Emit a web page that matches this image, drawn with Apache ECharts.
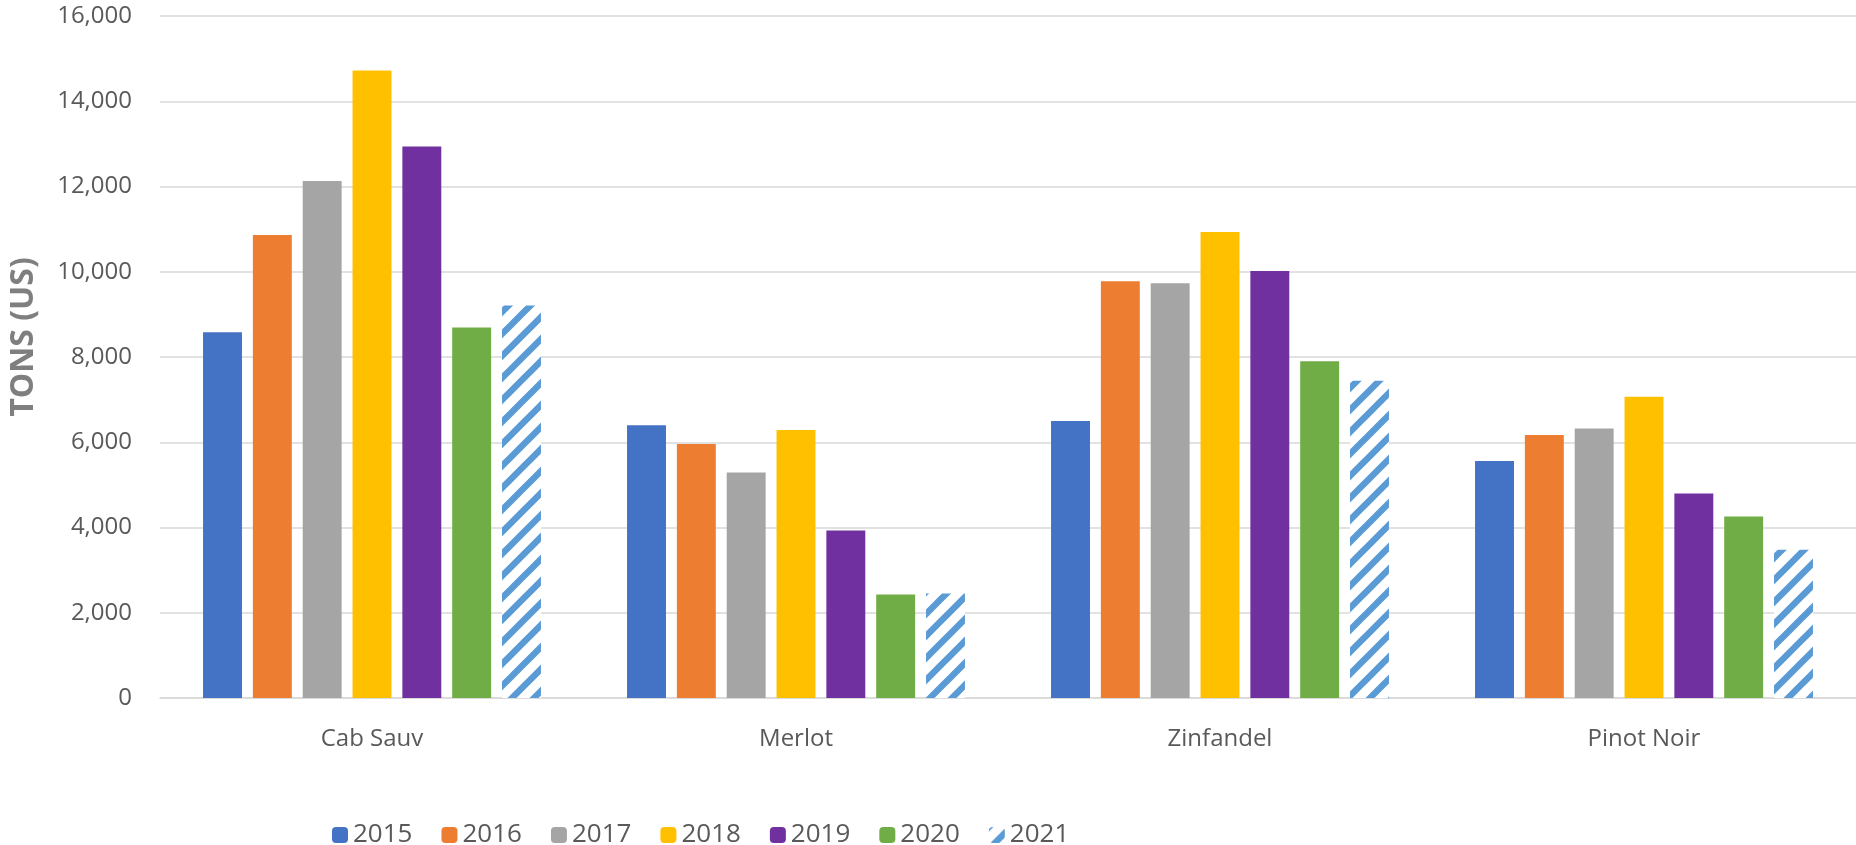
<!DOCTYPE html>
<html>
<head>
<meta charset="utf-8">
<style>
  html, body { margin: 0; padding: 0; background: #fff; }
  #chart { width: 1856px; height: 845px; }
</style>
<script src="https://cdn.jsdelivr.net/npm/echarts@6/dist/echarts.min.js"></script>
</head>
<body>
<div id="chart"></div>
<script>
const categories = ['Cab Sauv', 'Merlot', 'Zinfandel', 'Pinot Noir'];
const years = ['2015', '2016', '2017', '2018', '2019', '2020', '2021'];
const y2015 = [8580, 6400, 6500, 5560];
const y2016 = [10860, 5960, 9780, 6170];
const y2017 = [12130, 5290, 9730, 6320];
const y2018 = [14720, 6290, 10930, 7070];
const y2019 = [12940, 3930, 10020, 4800];
const y2020 = [8690, 2430, 7900, 4260];
const y2021 = [9210, 2450, 7440, 3480];

const valuesByYear = [y2015, y2016, y2017, y2018, y2019, y2020, y2021];
const colors = ['#4472C4', '#ED7D31', '#A5A5A5', '#FFC000', '#7030A0', '#70AD47', '#5B9BD5'];

// diagonal hatch used for the 2021 bars
function makeHatch(color) {
  const p = 22;
  const c = document.createElement('canvas');
  c.width = p;
  c.height = p;
  const ctx = c.getContext('2d');
  ctx.fillStyle = '#fff';
  ctx.fillRect(0, 0, p, p);
  ctx.strokeStyle = color;
  ctx.lineWidth = 6.5;
  ctx.beginPath();
  ctx.moveTo(-p / 2, p / 2); ctx.lineTo(p / 2, -p / 2);
  ctx.moveTo(0, p); ctx.lineTo(p, 0);
  ctx.moveTo(p / 2, p * 1.5); ctx.lineTo(p * 1.5, p / 2);
  ctx.stroke();
  return c;
}

const font = '"Open Sans", "Noto Sans", sans-serif';

const chart = echarts.init(document.getElementById('chart'));

const series = years.map((name, i) => {
  const hatched = i === years.length - 1;
  return {
    name: name,
    type: 'bar',
    data: valuesByYear[i],
    barGap: '28%',
    barCategoryGap: '20.3%',
    itemStyle: {
      color: hatched ? { image: makeHatch(colors[i]), repeat: 'repeat' } : colors[i]
    },
    emphasis: { disabled: true }
  };
});

chart.setOption({
  animation: false,
  textStyle: { fontFamily: font },
  grid: {
    left: 160,
    right: 0,
    top: 16,
    bottom: 147,
    containLabel: false,
    outerBoundsMode: 'none'
  },
  legend: {
    left: 327,
    top: 817,
    itemWidth: 16,
    itemHeight: 16,
    itemGap: 29,
    textStyle: { fontSize: 26, color: '#595959', fontFamily: font },
    data: years
  },
  xAxis: {
    type: 'category',
    data: categories,
    axisLine: { show: true, lineStyle: { color: '#D9D9D9', width: 1.5 } },
    axisTick: { show: false },
    axisLabel: { fontSize: 24, color: '#595959', margin: 29, fontFamily: font }
  },
  yAxis: {
    type: 'value',
    min: 0,
    max: 16000,
    interval: 2000,
    name: 'TONS (US)',
    nameLocation: 'middle',
    nameRotate: 90,
    nameGap: 120,
    nameTextStyle: { fontSize: 32, fontWeight: 'bold', color: '#7F7F7F', fontFamily: font, padding: [0, 0, 0, 40] },
    axisLine: { show: false },
    axisTick: { show: false },
    axisLabel: {
      fontSize: 24,
      color: '#595959',
      margin: 28,
      fontFamily: font,
      formatter: v => v.toLocaleString('en-US')
    },
    splitLine: { lineStyle: { color: '#D9D9D9', width: 1.5 } }
  },
  series: series
});
</script>
</body>
</html>
